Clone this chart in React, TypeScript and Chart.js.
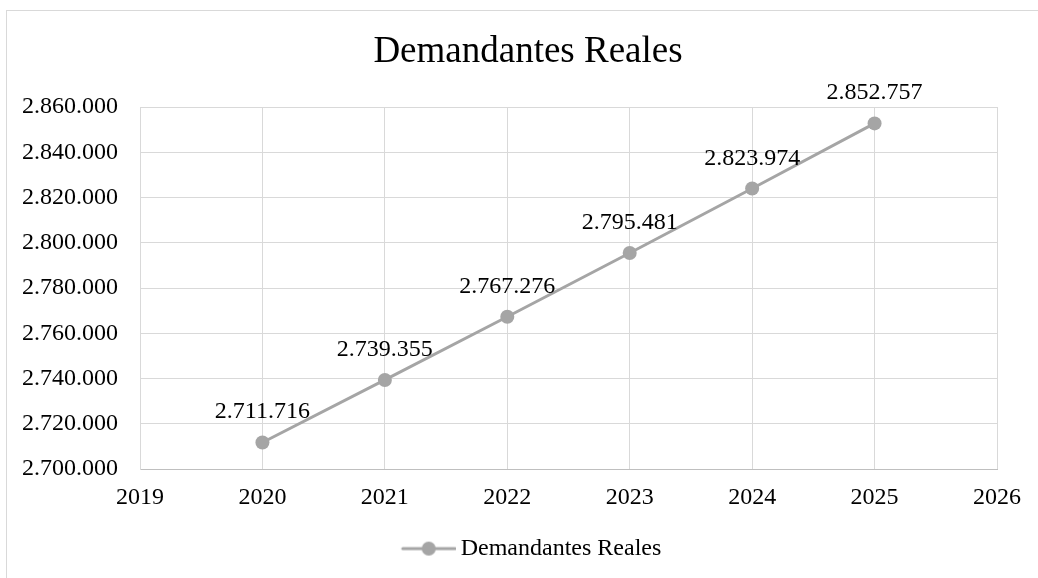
import React, { useEffect, useRef } from 'react';
import { Chart, registerables } from 'chart.js';

Chart.register(...registerables);

// Series data
const chartTitle = 'Demandantes Reales';
const seriesName = 'Demandantes Reales';
const years = [2020, 2021, 2022, 2023, 2024, 2025];
const demandantes = [2711716, 2739355, 2767276, 2795481, 2823974, 2852757];

// Axis ticks
const xTicks = [2019, 2020, 2021, 2022, 2023, 2024, 2025, 2026];
const yTicks = [2700000, 2720000, 2740000, 2760000, 2780000, 2800000, 2820000, 2840000, 2860000];

const FONT = "'Liberation Serif', 'Times New Roman', serif";
const LINE_COLOR = '#a5a5a5';
const GRID_COLOR = '#d9d9d9';

const formatThousands = (v: number) =>
  Math.round(v).toString().replace(/\B(?=(\d{3})+(?!\d))/g, '.');

// Legend swatch: short line with a circle marker in the middle
function makeLegendSwatch(): HTMLCanvasElement {
  const c = document.createElement('canvas');
  c.width = 68;
  c.height = 16;
  const ctx = c.getContext('2d')!;
  ctx.strokeStyle = LINE_COLOR;
  ctx.lineWidth = 3;
  ctx.lineCap = 'round';
  ctx.beginPath();
  ctx.moveTo(15, 8);
  ctx.lineTo(67, 8);
  ctx.stroke();
  ctx.fillStyle = LINE_COLOR;
  ctx.beginPath();
  ctx.arc(41, 8, 7, 0, Math.PI * 2);
  ctx.fill();
  return c;
}

const valueLabels = {
  id: 'valueLabels',
  afterDatasetsDraw(chart: any) {
    const ctx = chart.ctx;
    const meta = chart.getDatasetMeta(0);
    const data = chart.data.datasets[0].data as { x: number; y: number }[];
    ctx.save();
    ctx.font = `24px ${FONT}`;
    ctx.fillStyle = '#000';
    ctx.textAlign = 'center';
    ctx.textBaseline = 'alphabetic';
    meta.data.forEach((pt: any, i: number) => {
      ctx.fillText(formatThousands(data[i].y), pt.x, pt.y - 24);
    });
    ctx.restore();
  },
};

export default function App() {
  const canvasRef = useRef<HTMLCanvasElement | null>(null);

  useEffect(() => {
    if (!canvasRef.current) return;
    const swatch = makeLegendSwatch();
    const chart = new Chart(canvasRef.current, {
      type: 'line',
      data: {
        datasets: [
          {
            label: seriesName,
            data: years.map((y, i) => ({ x: y, y: demandantes[i] })),
            borderColor: LINE_COLOR,
            backgroundColor: LINE_COLOR,
            borderWidth: 3,
            pointRadius: 7,
            pointBorderWidth: 0,
            pointBackgroundColor: LINE_COLOR,
            tension: 0,
          },
        ],
      },
      options: {
        responsive: false,
        animation: false,
        devicePixelRatio: 1,
        layout: { padding: { left: 18, right: 0, top: 0, bottom: 7.4 } },
        scales: {
          x: {
            type: 'linear',
            min: 2019,
            max: 2026,
            afterBuildTicks: (s: any) => {
              s.ticks = xTicks.map((v) => ({ value: v }));
            },
            afterFit: (s: any) => {
              s.height = 57.6;
            },
            grid: { color: GRID_COLOR, drawTicks: false, tickLength: 0 },
            border: { color: '#bfbfbf', width: 1 },
            ticks: {
              padding: 14.5,
              color: '#000',
              font: { family: FONT, size: 24 },
              callback: (v: any) => String(v),
              maxRotation: 0,
              autoSkip: false,
            },
          },
          y: {
            type: 'linear',
            min: 2700000,
            max: 2860000,
            afterBuildTicks: (s: any) => {
              s.ticks = yTicks.map((v) => ({ value: v }));
            },
            afterFit: (s: any) => {
              s.width = 122;
            },
            grid: { color: GRID_COLOR, drawTicks: false, tickLength: 0 },
            border: { color: GRID_COLOR, width: 1 },
            ticks: {
              padding: 22,
              color: '#000',
              font: { family: FONT, size: 24 },
              callback: (v: any) => formatThousands(Number(v)),
              autoSkip: false,
            },
          },
          yRight: {
            type: 'linear',
            position: 'right',
            display: true,
            grid: { display: false, drawTicks: false },
            border: { display: false },
            ticks: { display: false },
            afterFit: (s: any) => {
              s.width = 41;
            },
          },
        },
        plugins: {
          title: {
            display: true,
            text: chartTitle,
            color: '#000',
            font: { family: FONT, size: 37, weight: 'normal' },
            padding: { top: 30, bottom: 32.6 },
          },
          legend: {
            display: true,
            position: 'bottom',
            labels: {
              usePointStyle: true,
              pointStyleWidth: 54,
              padding: 10,
              color: '#000',
              font: { family: FONT, size: 24 },
              generateLabels: () => [
                {
                  text: seriesName,
                  pointStyle: swatch as any,
                  fillStyle: LINE_COLOR,
                  strokeStyle: LINE_COLOR,
                  lineWidth: 0,
                  hidden: false,
                  datasetIndex: 0,
                  fontColor: '#000',
                } as any,
              ],
            },
          },
          tooltip: { enabled: false },
        },
      },
      plugins: [valueLabels],
    });
    return () => chart.destroy();
  }, []);

  return (
    <div
      style={{
        position: 'fixed',
        left: 0,
        top: 0,
        width: 1038,
        height: 578,
        overflow: 'hidden',
        background: '#fff',
      }}
    >
      <div
        style={{
          position: 'absolute',
          left: 6,
          top: 10,
          width: 1100,
          height: 700,
          border: `1px solid ${GRID_COLOR}`,
          boxSizing: 'border-box',
        }}
      />
      <canvas
        ref={canvasRef}
        width={1038}
        height={578}
        style={{ position: 'absolute', left: 0, top: 0, width: 1038, height: 578 }}
      />
    </div>
  );
}
